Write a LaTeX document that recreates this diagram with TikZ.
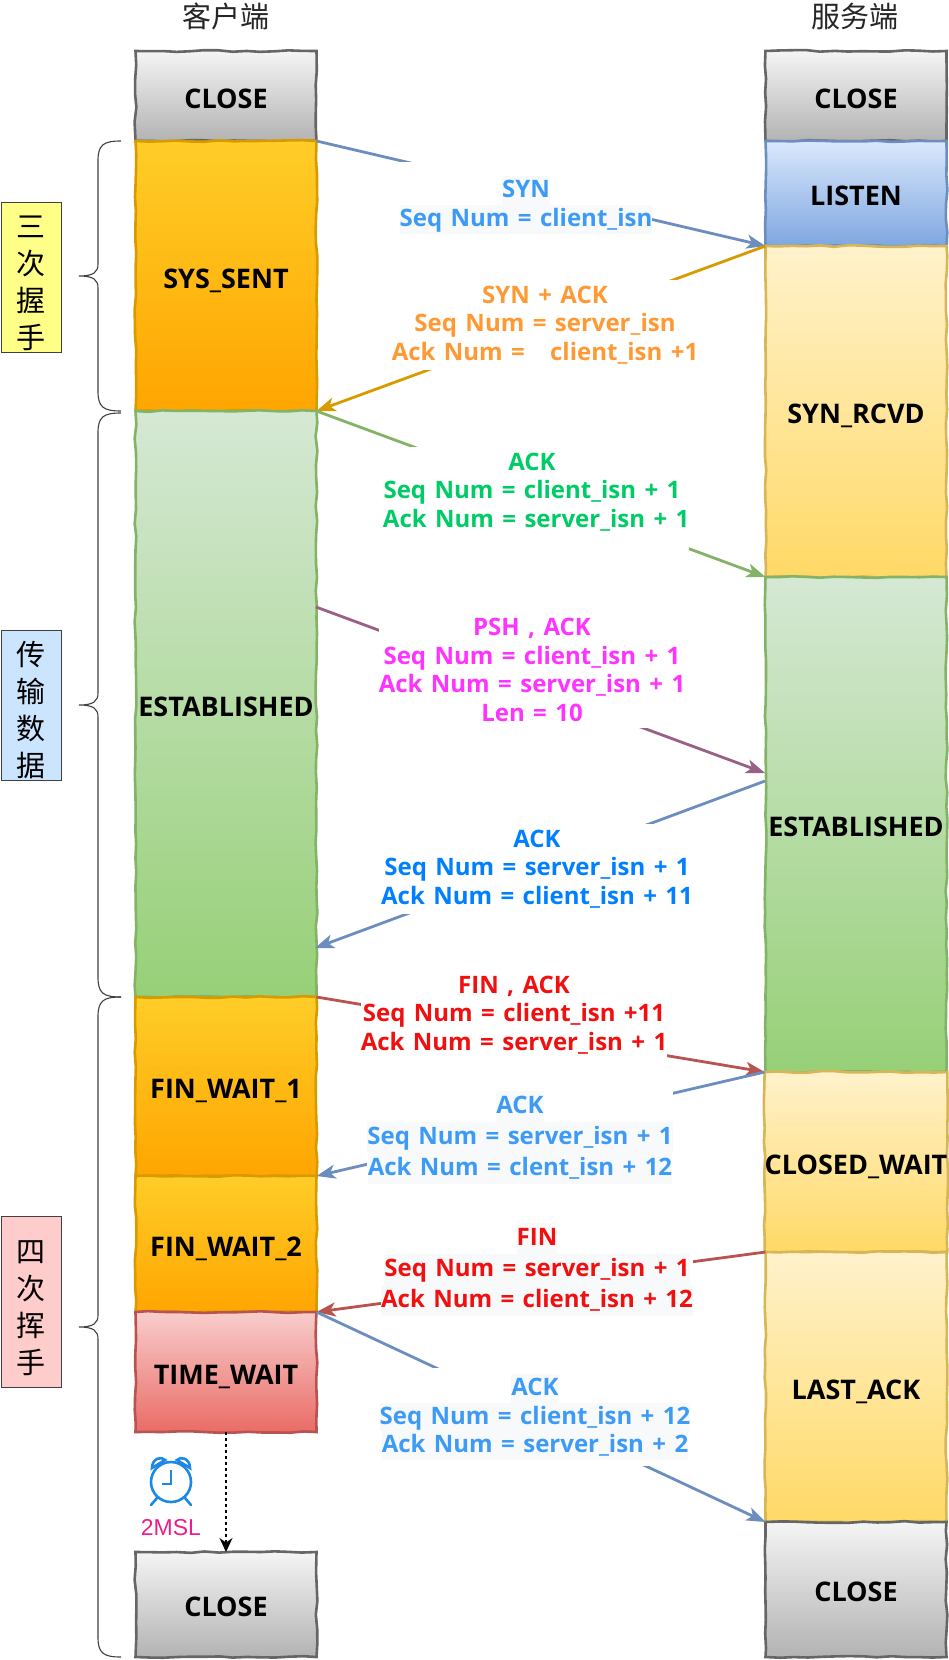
\documentclass[tikz,border=0pt]{standalone}
\usepackage{fontspec}
\setmainfont{Open Sans}[WordSpace=1.35]
\newfontfamily\cjk{Noto Sans CJK SC}
\newfontfamily\arialf{Liberation Sans}
\usetikzlibrary{arrows.meta,decorations.pathmorphing}
\definecolor{ptxt}{HTML}{3D9BF5}
\definecolor{otxt}{HTML}{FF9933}
\definecolor{gtxt}{HTML}{00CC66}
\definecolor{mtxt}{HTML}{FF33FF}
\definecolor{btxt}{HTML}{007FFF}
\definecolor{rtxt}{HTML}{F01010}
\definecolor{lbg}{HTML}{F8F9FA}
\definecolor{abl}{HTML}{6C8EBF}
\definecolor{aor}{HTML}{D79B00}
\definecolor{agr}{HTML}{82B366}
\definecolor{apu}{HTML}{996185}
\definecolor{are}{HTML}{B85450}
\definecolor{HTMLo1}{HTML}{FFCD28}
\definecolor{HTMLo2}{HTML}{FFA500}
\definecolor{HTMLg1}{HTML}{D5E8D4}
\definecolor{HTMLg2}{HTML}{97D077}
\definecolor{HTMLy0}{HTML}{D6B656}
\definecolor{HTMLy1}{HTML}{FFF2CC}
\definecolor{HTMLy2}{HTML}{FFD966}
\definecolor{HTMLb1}{HTML}{DAE8FC}
\definecolor{HTMLb2}{HTML}{7EA6E0}
\definecolor{HTMLr1}{HTML}{F8CECC}
\definecolor{HTMLr2}{HTML}{EA6B66}
\definecolor{HTMLsideA}{HTML}{FFFF88}
\definecolor{HTMLsideB}{HTML}{CCE5FF}
\definecolor{HTMLsideC}{HTML}{FFCCCC}
\definecolor{HTMLclock}{HTML}{1E88E5}
\definecolor{HTMLmsl}{HTML}{E91E8C}
\newcommand{\bgl}[1]{{\setlength{\fboxsep}{0pt}\colorbox{lbg}{\rule[-0.25\baselineskip]{0pt}{\baselineskip}#1}}}
\newcommand{\toprule}{\rule{0pt}{35pt}}
\newcommand{\bracepath}[3]{%
  \draw[bracel] (121,#1) .. controls (103,#1) and (98,#1+4) .. (98,#1+20)
    -- (98,#3-12) .. controls (98,#3-4) and (94,#3) .. (79,#3)
    (79,#3) .. controls (94,#3) and (98,#3+4) .. (98,#3+12)
    -- (98,#2-20) .. controls (98,#2-4) and (103,#2) .. (121,#2);}
\tikzset{
  x=1pt,y=-1pt,
  stbox/.style={draw,line width=2.6pt,minimum width=181pt,inner sep=0pt,outer sep=0pt,
    decoration={random steps,segment length=14pt,amplitude=0.9pt},decorate,
    font=\fontsize{27}{30}\selectfont\bfseries,text=black,text height=24pt,text depth=0pt},
  sgray/.style={stbox,draw=black!60,top color=black!4,bottom color=black!30},
  sorange/.style={stbox,draw=aor,top color=HTMLo1,bottom color=HTMLo2},
  sgreen/.style={stbox,draw=agr,top color=HTMLg1,bottom color=HTMLg2},
  syellow/.style={stbox,draw=HTMLy0,top color=HTMLy1,bottom color=HTMLy2},
  sblue/.style={stbox,draw=abl,top color=HTMLb1,bottom color=HTMLb2},
  sred/.style={stbox,draw=are,top color=HTMLr1,bottom color=HTMLr2},
  arr/.style={line width=2.8pt,-{Stealth[length=19pt,width=14pt,inset=5pt]}},
  msg/.style={fill=white,inner xsep=0pt,inner ysep=6pt,align=center,
    font=\fontsize{24}{28.6}\selectfont\bfseries},
  msgw/.style={msg,inner ysep=0pt,font=\fontsize{24}{31}\selectfont\bfseries},
  side/.style={draw=black!75,line width=1pt,minimum width=60pt,inner sep=0pt,outer sep=0pt,align=center,
    font=\cjk\fontsize{29}{37}\selectfont},
  title/.style={font=\cjk\fontsize{29}{32}\selectfont,text=black!85},
  bracel/.style={draw=black!75,line width=1.1pt},
}
\begin{document}
\begin{tikzpicture}
\useasboundingbox (0,0) rectangle (948,1660);
\pgfmathsetseed{7}
% titles
\node[title] (tc) at (226,16) {客户端};
\node[title] (ts) at (855,16) {服务端};
% left column
\node[sgray,minimum height=90pt] (lclose) at (226,96) {CLOSE};
\node[sorange,minimum height=270pt] (lsent) at (226,276) {SYS\_SENT};
\node[sgreen,minimum height=586pt] (lest) at (226,704) {ESTABLISHED};
\node[sorange,minimum height=179pt] (lfin1) at (226,1086.5) {FIN\_WAIT\_1};
\node[sorange,minimum height=136pt] (lfin2) at (226,1244) {FIN\_WAIT\_2};
\node[sred,minimum height=120pt] (ltime) at (226,1372) {TIME\_WAIT};
\node[sgray,minimum height=105pt] (lend) at (226,1604.5) {CLOSE};
% right column
\node[sgray,minimum height=90pt] (rclose) at (856,96) {CLOSE};
\node[sblue,minimum height=105pt] (rlisten) at (856,193.5) {LISTEN};
\node[syellow,minimum height=331pt] (rrcvd) at (856,411.5) {SYN\_RCVD};
\node[sgreen,minimum height=495pt] (rest) at (856,824.5) {ESTABLISHED};
\node[syellow,minimum height=180pt] (rcw) at (856,1162) {CLOSED\_WAIT};
\node[syellow,minimum height=270pt] (rla) at (856,1387) {LAST\_ACK};
\node[sgray,minimum height=135pt] (rend) at (856,1589.5) {CLOSE};
% side labels
\node[side,fill=HTMLsideA,minimum height=150pt] (s1) at (31,277) {\toprule 三\\次\\握\\手};
\node[side,fill=HTMLsideB,minimum height=150pt] (s2) at (31,705) {\toprule 传\\输\\数\\据};
\node[side,fill=HTMLsideC,minimum height=171pt] (s3) at (31,1301.5) {\toprule 四\\次\\挥\\手};
% braces
\bracepath{141}{411}{276}
\bracepath{413}{997}{705}
\bracepath{997}{1657}{1327}
% arrow end points off the corners
\coordinate (p1) at (316,607);
\coordinate (p2) at (765,773);
\coordinate (p3) at (765,781);
\coordinate (p4) at (315,948);
% arrows
\draw[arr,abl] (lsent.north east) -- (rlisten.south west);
\draw[arr,aor] (rrcvd.north west) -- (lsent.south east);
\draw[arr,agr] (lest.north east) -- (rest.north west);
\draw[arr,apu] (p1) -- (p2);
\draw[arr,abl] (p3) -- (p4);
\draw[arr,are] (lfin1.north east) -- (rcw.north west);
\draw[arr,abl] (rcw.north west) -- (lfin2.north east);
\draw[arr,are] (rla.north west) -- (ltime.north east);
\draw[arr,abl] (ltime.north east) -- (rend.north west);
\draw[-{Stealth[length=14pt,width=13pt]},line width=1.3pt,dashed,black] (ltime.south) -- (lend.north);
% messages
\node[msg,inner ysep=14pt,text=ptxt] (m1) at (526,205) {\bgl{SYN}\\\bgl{Seq Num = client\_isn}};
\node[msg,text=otxt] (m2) at (545,325) {SYN + ACK\\Seq Num = server\_isn\\Ack Num = \ \ client\_isn +1};
\node[msg,text=gtxt] (m3) at (532,500) {ACK\\Seq Num = client\_isn + 1\\ \ Ack Num = server\_isn + 1\rule[-20pt]{0pt}{0pt}};
\node[msg,text=mtxt] (m4) at (532,670) {PSH , ACK\\Seq Num = client\_isn + 1\\Ack Num = server\_isn + 1\\Len = 10};
\node[msg,text=btxt] (m5) at (537,869) {ACK\\Seq Num = server\_isn + 1\\Ack Num = client\_isn + 11};
\node[msg,text=rtxt] (m6) at (514,1015) {FIN , ACK\\Seq Num = client\_isn +11\\Ack Num = server\_isn + 1};
\node[msgw,text=ptxt] (m7) at (520,1137) {\bgl{ACK}\\\bgl{Seq Num = server\_isn + 1}\\\bgl{Ack Num = clent\_isn + 12}};
\node[msgw,text=rtxt] (m8) at (537,1269) {\bgl{FIN}\\\bgl{Seq Num = server\_isn + 1}\\\bgl{Ack Num = client\_isn + 12}};
\node[msg,text=ptxt] (m9) at (535,1417) {\bgl{ACK}\\\bgl{Seq Num = client\_isn + 12}\\\bgl{Ack Num = server\_isn + 2}};
% alarm clock
\begin{scope}[shift={(171,1482)},draw=HTMLclock,line width=2.6pt]
  \draw (0,0) circle[radius=20];
  \draw (0,-12) -- (0,2) -- (-9,2);
  \draw[line cap=round] (-19,-14) .. controls (-19,-24) and (-9,-26) .. (-6,-22) -- cycle;
  \draw[line cap=round] (19,-14) .. controls (19,-24) and (9,-26) .. (6,-22) -- cycle;
  \draw[line cap=round] (-14,16) -- (-20,23);
  \draw[line cap=round] (14,16) -- (20,23);
\end{scope}
\node[text=HTMLmsl,font=\arialf\fontsize{23}{26}\selectfont] (msl) at (171,1528) {2MSL};
\end{tikzpicture}
\end{document}
